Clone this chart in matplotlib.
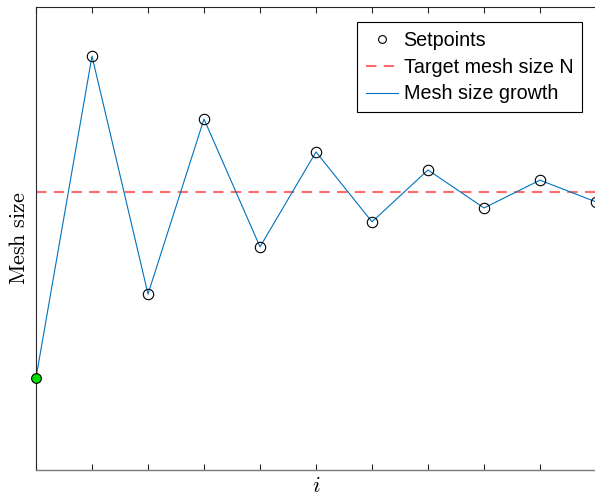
import matplotlib.pyplot as plt
import numpy as np

plt.rcParams["mathtext.fontset"] = "cm"
plt.rcParams["font.family"] = ["Liberation Sans", "DejaVu Sans"]

# iteration index and mesh size at each setpoint
step = [0, 1, 2, 3, 4, 5, 6, 7, 8, 9, 10]
mesh_size = [19.9, 89.4, 38.0, 75.8, 48.2, 68.7, 53.6, 64.8, 56.6, 62.6, 57.9]
target_n = 60.0

fig = plt.figure(figsize=(5.95, 4.97), dpi=100)
ax = fig.add_axes([36 / 595, 27 / 497, 560 / 595, 463 / 497])

(growth,) = ax.plot(step, mesh_size, color="#0072BD", lw=0.8, zorder=2)
target = ax.axhline(target_n, color="#FF5050", alpha=0.85, lw=1.5,
                    ls=(0, (5, 3.5)), zorder=1)
(setpts,) = ax.plot(step[1:], mesh_size[1:], ls="none", marker="o", ms=7.5,
                    mfc="none", mec="black", mew=0.8, zorder=3)
ax.plot(step[0], mesh_size[0], marker="o", ms=7, mfc="#00E000",
        mec="black", mew=0.8, ls="none", zorder=4, clip_on=False)

ax.set_xlim(0, 10)
ax.set_ylim(0, 100)
ax.set_xticks(np.arange(0, 11))
ax.set_xticklabels([])
ax.set_yticks([])
ax.tick_params(axis="x", direction="in", length=4, width=0.8,
               top=True, color="#262626")

for side in ("left", "top", "right"):
    ax.spines[side].set_color("#262626")
    ax.spines[side].set_linewidth(0.8)
ax.spines["bottom"].set_color("#7a7a7a")
ax.spines["bottom"].set_linewidth(1.0)

ax.set_ylabel(r"$\mathrm{Mesh\ size}$", fontsize=16, labelpad=4)
ax.set_xlabel(r"$i$", fontsize=16, labelpad=1)

leg = ax.legend([setpts, target, growth],
                ["Setpoints", "Target mesh size N", "Mesh size growth"],
                loc="upper right", bbox_to_anchor=(0.975, 0.968),
                borderaxespad=0, fontsize=14.2, fancybox=False,
                edgecolor="black", framealpha=1, handlelength=1.6,
                handletextpad=0.3, labelspacing=0.4, borderpad=0.45,
                markerscale=0.75)
leg.get_frame().set_linewidth(0.8)

fig.savefig("out.png", dpi=100)
